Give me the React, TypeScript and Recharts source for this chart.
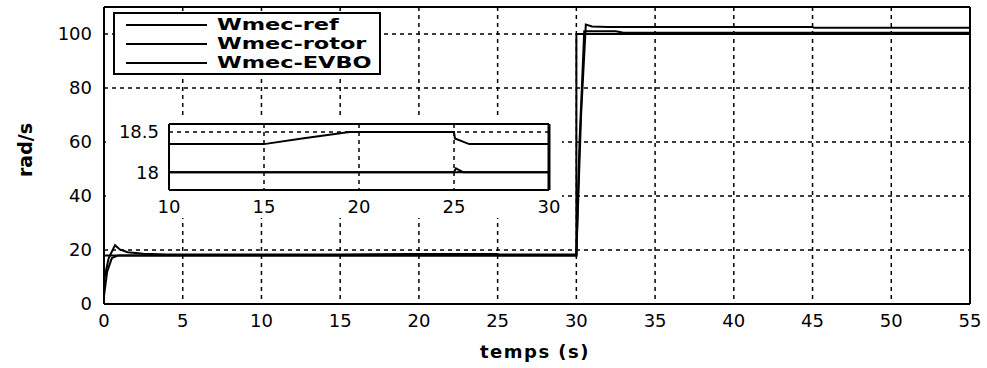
import React from 'react';
import {
  LineChart,
  Line,
  XAxis,
  YAxis,
  CartesianGrid,
  ReferenceLine,
  Legend,
} from 'recharts';

// axis ticks
const xTicksMain = [0, 5, 10, 15, 20, 25, 30, 35, 40, 45, 50, 55];
const yTicksMain = [0, 20, 40, 60, 80, 100];
const xTicksInset = [10, 15, 20, 25, 30];
const yTicksInset = [18, 18.5];

const seriesNames = ['Wmec-ref', 'Wmec-rotor', 'Wmec-EVBO'];

// series (time in s, speed in rad/s)
const refT = [0, 30, 30, 55];
const refV = [18, 18, 100, 100];

const rotorT = [0, 0.3, 0.7, 1.0, 1.5, 2.5, 4, 15, 17, 19.5, 25, 25.05, 25.8, 30, 30.3, 30.6, 31, 32, 45, 45.1, 55];
const rotorV = [9, 17, 21.8, 20.2, 19.2, 18.6, 18.35, 18.35, 18.42, 18.5, 18.5, 18.42, 18.35, 18.35, 70, 103.5, 102.8, 102.6, 102.6, 102.3, 102.3];

const evboT = [0, 0.2, 0.5, 0.9, 25, 25.1, 25.5, 30, 30.2, 30.5, 32.5, 33, 55];
const evboV = [3, 12, 17, 18, 18, 18.05, 18, 18, 60, 101, 101, 100.5, 100.5];

const toPts = (t: number[], v: number[]) => t.map((x, i) => ({ t: x, v: v[i] }));

const refData = toPts(refT, refV);
const rotorData = toPts(rotorT, rotorV);
const evboData = toPts(evboT, evboV);

const tickFont = { fontSize: 18, fontFamily: 'DejaVu Sans', fill: '#000' };
const gridDash = '4 4';

const LegendBox = (props: any) => {
  const items = [...(props.payload || [])].sort(
    (a: any, b: any) => seriesNames.indexOf(a.value) - seriesNames.indexOf(b.value)
  );
  return (
    <div
      style={{
        border: '2px solid #000',
        background: '#fff',
        width: 264,
        padding: '1px 0',
        fontFamily: 'DejaVu Sans',
        fontWeight: 'bold',
        fontSize: 16,
      }}
    >
      {items.map((it: any) => (
        <div key={it.value} style={{ display: 'flex', alignItems: 'center', height: 19 }}>
          <div style={{ marginLeft: 11, width: 81, height: 2, background: '#000' }} />
          <div style={{ marginLeft: 10, transform: 'scaleX(1.4)', transformOrigin: 'left center', whiteSpace: 'nowrap' }}>
            {it.value}
          </div>
        </div>
      ))}
    </div>
  );
};

const Inset = () => (
  <div style={{ position: 'absolute', left: 106, top: 115, width: 456, height: 103, background: '#fff' }}>
    <LineChart width={456} height={103} margin={{ top: 9, right: 13, bottom: 0, left: 8 }}>
      <CartesianGrid stroke="#000" strokeDasharray={gridDash} strokeWidth={1.5} />
      <XAxis
        dataKey="t"
        type="number"
        domain={[10, 30]}
        ticks={xTicksInset}
        allowDataOverflow
        height={28}
        tick={tickFont}
        tickSize={0}
        tickMargin={10}
        axisLine={{ stroke: '#000', strokeWidth: 2 }}
      />
      <YAxis
        type="number"
        domain={[17.78, 18.6]}
        ticks={yTicksInset}
        allowDataOverflow
        width={55}
        tick={tickFont}
        tickSize={0}
        tickMargin={10}
        axisLine={{ stroke: '#000', strokeWidth: 2 }}
      />
      <ReferenceLine y={18.6} stroke="#000" strokeWidth={2} />
      <ReferenceLine x={30} stroke="#000" strokeWidth={3} />
      <Line data={refData} dataKey="v" stroke="#000" strokeWidth={2} dot={false} isAnimationActive={false} />
      <Line data={evboData} dataKey="v" stroke="#000" strokeWidth={2} dot={false} isAnimationActive={false} />
      <Line data={rotorData} dataKey="v" stroke="#000" strokeWidth={2} dot={false} isAnimationActive={false} />
    </LineChart>
  </div>
);

export default function App() {
  return (
    <div style={{ position: 'absolute', left: 0, top: 0, width: 987, height: 368, background: '#fff' }}>
      <LineChart width={987} height={368} margin={{ top: 7, right: 17, bottom: 34, left: 50 }}>
        <CartesianGrid stroke="#000" strokeDasharray={gridDash} strokeWidth={1.5} />
        <XAxis
          dataKey="t"
          type="number"
          domain={[0, 55]}
          ticks={xTicksMain}
          allowDataOverflow
          height={30}
          tick={tickFont}
          tickSize={0}
          tickMargin={10}
          axisLine={{ stroke: '#000', strokeWidth: 2 }}
          label={() => (
            <text
              x={535}
              y={358}
              textAnchor="middle"
              fontFamily="DejaVu Sans"
              fontWeight="bold"
              fontSize={18}
              letterSpacing={1.5}
              fill="#000"
            >
              temps (s)
            </text>
          )}
        />
        <YAxis
          type="number"
          domain={[0, 110]}
          ticks={yTicksMain}
          allowDataOverflow
          width={54}
          tick={tickFont}
          tickSize={0}
          tickMargin={12}
          axisLine={{ stroke: '#000', strokeWidth: 2 }}
          label={() => (
            <text
              x={25}
              y={150}
              textAnchor="middle"
              dominantBaseline="central"
              transform="rotate(-90, 25, 150)"
              fontFamily="DejaVu Sans"
              fontWeight="bold"
              fontSize={19}
              fill="#000"
            >
              rad/s
            </text>
          )}
        />
        <ReferenceLine y={110} stroke="#000" strokeWidth={2} />
        <ReferenceLine x={55} stroke="#000" strokeWidth={2} />
        <Legend
          layout="vertical"
          align="center"
          verticalAlign="middle"
          content={LegendBox}
          wrapperStyle={{ left: 113, top: 12, width: 'auto', height: 'auto' }}
        />
        <Line name="Wmec-ref" data={refData} dataKey="v" stroke="#000" strokeWidth={2} dot={false} isAnimationActive={false} />
        <Line name="Wmec-rotor" data={rotorData} dataKey="v" stroke="#000" strokeWidth={2} dot={false} isAnimationActive={false} />
        <Line name="Wmec-EVBO" data={evboData} dataKey="v" stroke="#000" strokeWidth={2} dot={false} isAnimationActive={false} />
      </LineChart>
      <Inset />
    </div>
  );
}
